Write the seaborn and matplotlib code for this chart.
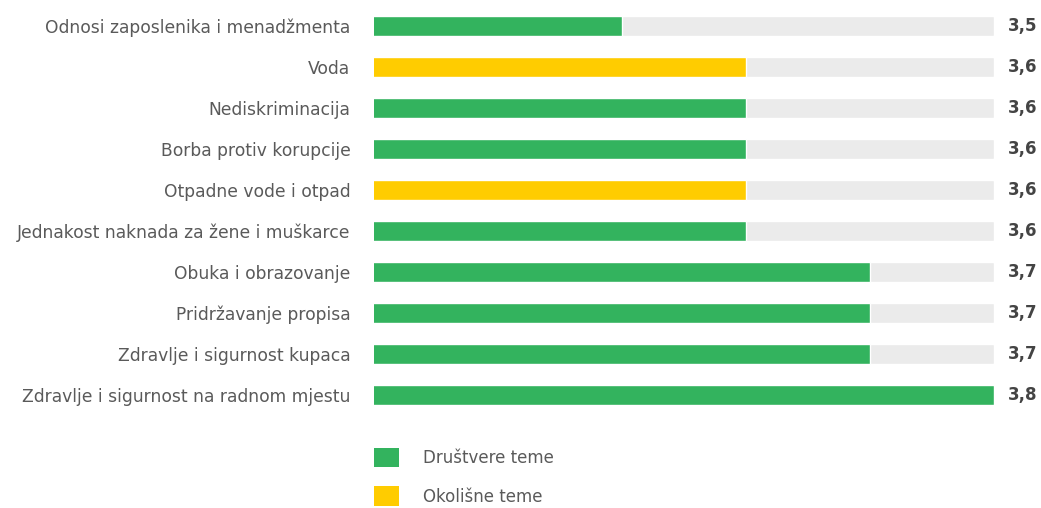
import numpy as np
import pandas as pd
import matplotlib
matplotlib.use("Agg")
import matplotlib.pyplot as plt
import seaborn as sns
from matplotlib.patches import Patch

# data, top row first
topics = [
    "Odnosi zaposlenika i menadžmenta",
    "Voda",
    "Nediskriminacija",
    "Borba protiv korupcije",
    "Otpadne vode i otpad",
    "Jednakost naknada za žene i muškarce",
    "Obuka i obrazovanje",
    "Pridržavanje propisa",
    "Zdravlje i sigurnost kupaca",
    "Zdravlje i sigurnost na radnom mjestu",
]
scores = [3.5, 3.6, 3.6, 3.6, 3.6, 3.6, 3.7, 3.7, 3.7, 3.8]
groups = ["Društvere teme", "Okolišne teme", "Društvere teme", "Društvere teme",
          "Okolišne teme", "Društvere teme", "Društvere teme", "Društvere teme",
          "Društvere teme", "Društvere teme"]
scale_min, scale_max = 3.3, 3.8

palette = {"Društvere teme": "#33b35e", "Okolišne teme": "#ffcc00"}
track_color = "#ebebeb"
label_color = "#5a5a5a"

df = pd.DataFrame({"topic": topics, "score": scores, "group": groups,
                   "track": [scale_max] * len(topics)})

sns.set_style("white")
plt.rcParams["font.family"] = ["DejaVu Sans"]

fig = plt.figure(figsize=(10.41, 5.08), dpi=100)
ax = fig.add_axes([374 / 1041, (508 - 415.5) / 508, 620 / 1041, 410 / 508])

bar_h = 0.49
sns.barplot(data=df, y="topic", x="track", color=track_color, width=bar_h,
            orient="h", ax=ax, saturation=1)
sns.barplot(data=df, y="topic", x="score", hue="group", palette=palette,
            width=bar_h, dodge=False, orient="h", ax=ax, saturation=1,
            legend=False)

ax.set_xlim(scale_min, scale_max)
ax.set_ylim(len(topics) - 0.5, -0.5)
ax.set_xlabel("")
ax.set_ylabel("")
ax.set_xticks([])
ax.tick_params(axis="y", length=0, pad=17, labelsize=12.3, labelcolor=label_color)
sns.despine(ax=ax, left=True, bottom=True, top=True, right=True)

for i, v in enumerate(scores):
    ax.text(1.023, i, f"{v:.1f}".replace(".", ","), transform=ax.get_yaxis_transform(),
            ha="left", va="center", fontsize=12, fontweight="bold", color="#444444")

handles = [Patch(facecolor=palette[g], edgecolor="none", label=g) for g in palette]
leg = fig.legend(handles=handles, loc="upper left",
                 bbox_to_anchor=(374 / 1041, 1 - 448 / 508), frameon=False,
                 fontsize=12, handlelength=1.5, handleheight=1.4,
                 handletextpad=1.44, labelspacing=1.15, borderpad=0,
                 borderaxespad=0)
for t in leg.get_texts():
    t.set_color(label_color)

fig.savefig("out.png", dpi=100)
